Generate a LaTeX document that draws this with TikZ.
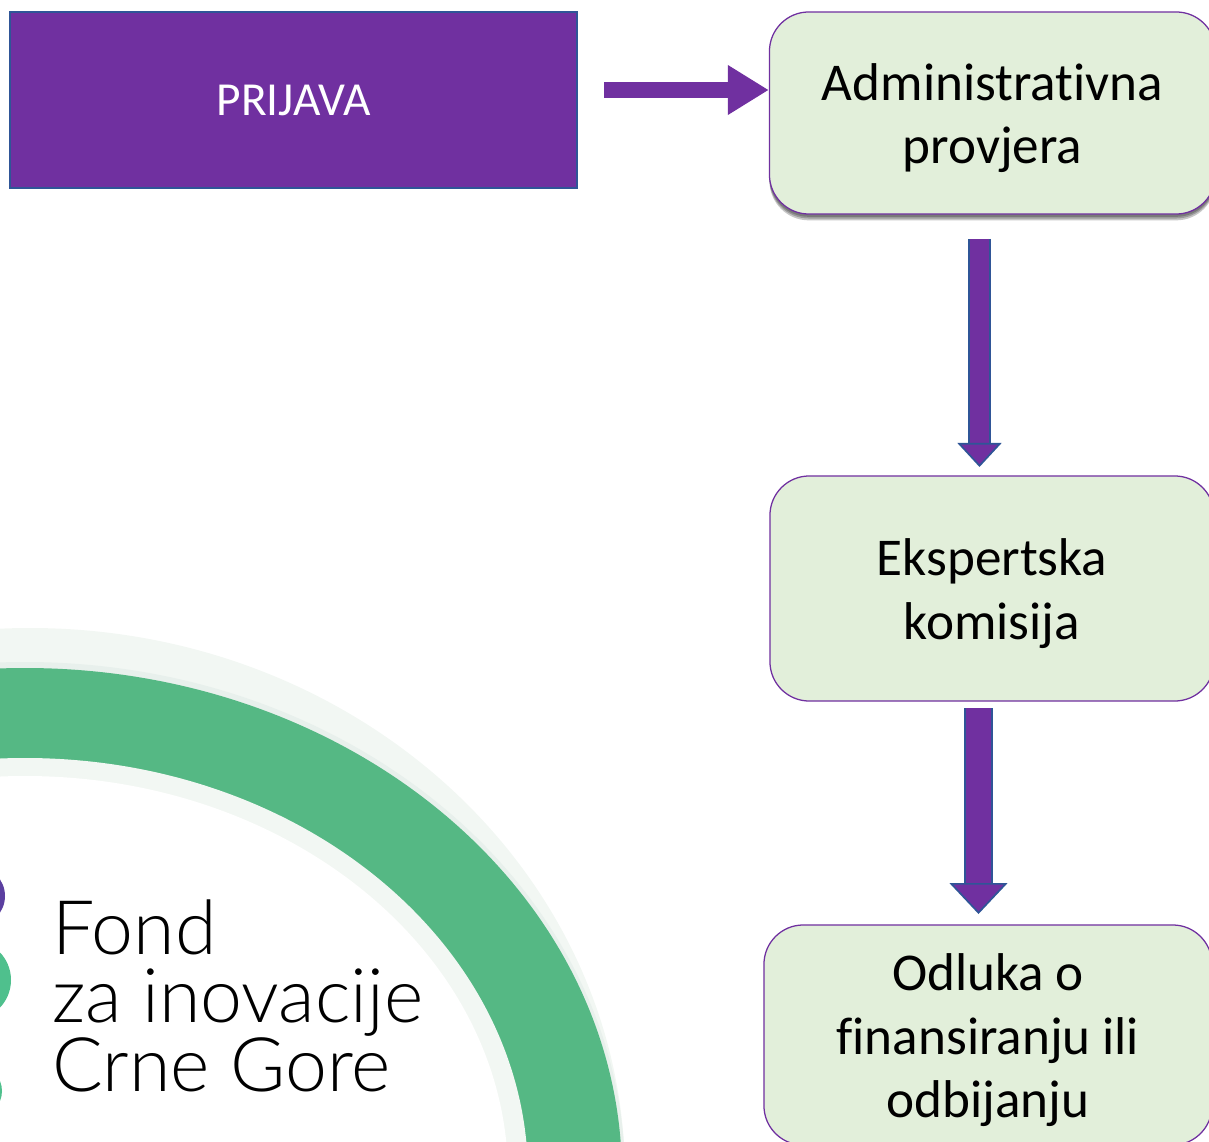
\documentclass[tikz,border=0pt]{standalone}
\usepackage{fontspec}
\setmainfont[Ligatures=NoCommon]{Carlito}
\newfontfamily\logofont{Lato Light}
\usetikzlibrary{arrows.meta, shadows}
\definecolor{fondpurple}{HTML}{7030A0}
\definecolor{fondblue}{HTML}{2F5597}
\definecolor{boxgreen}{HTML}{E2EFDA}
\definecolor{ringgreen}{HTML}{55B884}
\definecolor{ringpale}{HTML}{F2F7F3}
\definecolor{ringedge}{HTML}{E8F0EC}
\definecolor{dotpurple}{HTML}{5B3FA0}
\definecolor{dotgreen}{HTML}{4FC08D}
\newcommand{\boxstrut}{\rule{0pt}{33.5pt}}
\tikzset{
    stepbox/.style={draw=fondpurple, line width=0.9pt, fill=boxgreen, rounded corners=28pt,
        align=center, text=black, inner sep=0pt, font=\fontsize{37.8}{45.5}\selectfont},
    softshadow/.style={drop shadow={shadow xshift=0pt, shadow yshift=-#1pt, fill=black, opacity=0.22}},
    flowarrow/.style={line width=11.4pt, fondpurple},
    outlinearrow/.style={draw=fondblue, line width=1.6pt, double=fondpurple},
}
\begin{document}
\begin{tikzpicture}[x=0.025cm, y=-0.025cm]
    \useasboundingbox (0, 0) rectangle (1209, 1142);
    % ring
    \fill [ringpale] (30, 1176) ellipse [x radius=595, y radius=548];
    \fill [ringedge] (25, 1176) ellipse [x radius=600, y radius=514];
    \fill [ringgreen] (25, 1176) ellipse [x radius=597, y radius=508];
    \fill [ringpale] (25, 1176) ellipse [x radius=503, y radius=418];
    \fill [white] (25, 1176) ellipse [x radius=483, y radius=400];
    % logo
    \fill [dotpurple] (-25, 896) circle [radius=30];
    \fill [dotgreen] (-29, 980) circle [radius=40];
    \fill [dotgreen] (-24, 1091) circle [radius=26];
    \node (fondtext) [anchor=north west, align=left, inner sep=0pt, font=\logofont\fontsize{53.5}{48}\selectfont]
        at (52, 899.5) {Fond\\za inovacije\\Crne Gore};
    % boxes
    \node (prijava) [draw=fondblue, line width=1.2pt, fill=fondpurple, text=white, minimum width=14.175cm,
        minimum height=4.4cm, inner sep=0pt, font=\fontsize{33.7}{36}\selectfont] at (293.5, 100) {\raisebox{-1.5pt}{PRIJAVA}};
    \node (admin) [stepbox, minimum width=11.15cm, minimum height=5.05cm,
        softshadow=4.5, softshadow=3.2, softshadow=2]
        at (992.5, 113) {\boxstrut Administrativna\\provjera};
    \node (ekspert) [stepbox, minimum width=11.1cm, minimum height=5.625cm] at (992, 588.5) {\boxstrut Ekspertska\\komisija};
    \node (odluka) [stepbox, minimum width=11.2cm, minimum height=5.5cm] at (988, 1035) {\boxstrut Odluka o\\finansiranju ili\\odbijanju};
    % arrows
    \coordinate (prijavaout) at (604, 90);
    \coordinate (adminout) at (979.5, 239);
    \coordinate (ekspertin) at (979.5, 467);
    \coordinate (ekspertout) at (978.5, 708);
    \coordinate (odlukain) at (978.5, 914);
    \draw [flowarrow, -{Triangle[length=41*0.7113pt, width=47*0.7113pt]}] (prijavaout) -- (prijavaout -| admin.west);
    \draw [outlinearrow, double distance=13pt, -{Triangle[length=24*0.7113pt, width=44*0.7113pt, fill=fondpurple, line width=1.2pt]}]
        (adminout) -- (ekspertin);
    \draw [outlinearrow, double distance=18pt, -{Triangle[length=31*0.7113pt, width=58*0.7113pt, fill=fondpurple, line width=1.2pt]}]
        (ekspertout) -- (odlukain);
\end{tikzpicture}
\end{document}
